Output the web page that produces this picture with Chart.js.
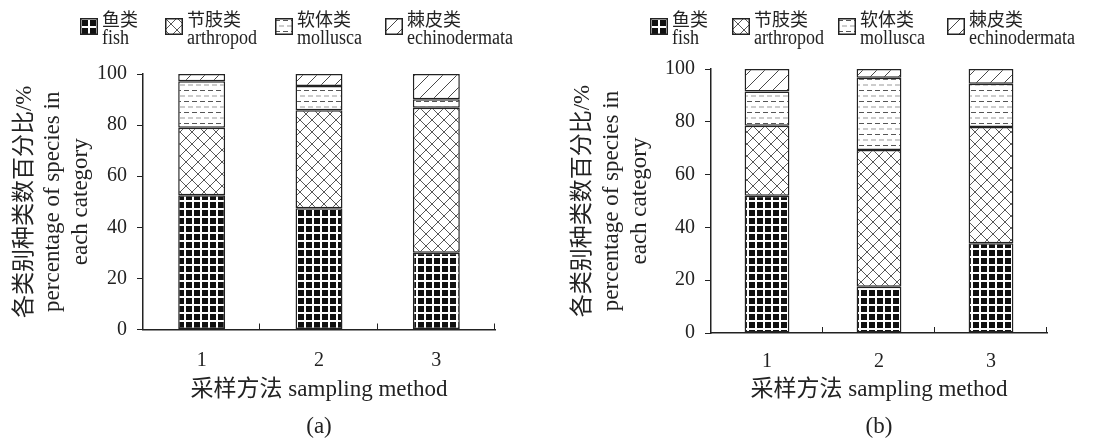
<!DOCTYPE html>
<html><head><meta charset="utf-8">
<script src="https://cdn.jsdelivr.net/npm/chart.js@4/dist/chart.umd.min.js"></script>
<style>
html,body{margin:0;padding:0;background:#fff;}
#wrap{position:relative;width:1111px;height:443px;overflow:hidden;background:#fff;}
.panel{position:absolute;top:0;height:443px;}
.panel > canvas{position:absolute;left:0;top:0;}
.li{position:absolute;top:0;height:50px;color:#222;font-family:"Liberation Serif","Noto Sans CJK SC",serif;z-index:2;}
.li canvas{position:absolute;left:0;top:18px;}
.li .zh{position:absolute;left:22px;top:8px;font-size:18px;line-height:20px;white-space:nowrap;font-family:"Noto Sans CJK SC",sans-serif;}
.li .en{position:absolute;left:22px;top:27px;font-size:20px;line-height:20px;white-space:nowrap;transform:scaleX(0.9);transform-origin:0 0;}
</style></head>
<body>
<div id="wrap">
  <div class="panel" id="pa" style="left:0;width:555px;"><canvas id="ca" width="555" height="443"></canvas></div>
  <div class="panel" id="pb" style="left:555px;width:556px;"><canvas id="cb" width="556" height="443"></canvas></div>
</div>
<script>
// ---------- data ----------
const categories = ['1', '2', '3'];
const seriesZh = ['鱼类', '节肢类', '软体类', '棘皮类'];
const seriesEn = ['fish', 'arthropod', 'mollusca', 'echinodermata'];
const yTitle = ['各类别种类数百分比/%', 'percentage of species in', 'each category'];
const xTitle = '采样方法 sampling method';
const panelLabels = ['(a)', '(b)'];

// panel (a)
const fishA = [52.5, 47.5, 30.0];
const arthropodA = [26.5, 38.3, 56.8];
const molluscaA = [18.2, 9.5, 3.3];
const echinoA = [2.8, 4.7, 9.9];
// panel (b)
const fishB = [52.0, 17.5, 34.0];
const arthropodB = [26.5, 51.8, 44.0];
const molluscaB = [13.0, 27.4, 16.4];
const echinoB = [8.5, 3.3, 5.6];

const yMin = 0, yMax = 100, yStep = 20;

// ---------- patterns ----------
function tile(w, h, draw) {
  const c = document.createElement('canvas'); c.width = w; c.height = h;
  const g = c.getContext('2d'); draw(g, w, h); return c;
}
function makePattern(kind, ctx) {
  let t;
  if (kind === 0) {
    t = tile(8, 8, (g) => { g.fillStyle = '#111'; g.fillRect(0,0,8,8); g.fillStyle = '#fff'; g.fillRect(0,0,8,2); g.fillRect(0,0,2,8); });
  } else if (kind === 1) {
    t = tile(12, 12, (g) => { g.fillStyle = '#fff'; g.fillRect(0,0,12,12); g.strokeStyle = '#444'; g.lineWidth = 0.9;
      g.beginPath(); g.moveTo(0,0); g.lineTo(12,12); g.moveTo(12,0); g.lineTo(0,12); g.stroke(); });
  } else if (kind === 2) {
    t = tile(8, 11, (g) => { g.fillStyle = '#fff'; g.fillRect(0,0,8,11); g.lineWidth = 1;
      g.strokeStyle = '#555'; g.beginPath(); g.moveTo(0,2.5); g.lineTo(5,2.5); g.stroke();
      g.strokeStyle = '#999'; g.beginPath(); g.moveTo(4,8); g.lineTo(8,8); g.moveTo(0,8); g.lineTo(1,8); g.stroke(); });
  } else {
    t = tile(14, 14, (g) => { g.fillStyle = '#fff'; g.fillRect(0,0,14,14); g.strokeStyle = '#333'; g.lineWidth = 0.9;
      g.beginPath(); g.moveTo(-1,15); g.lineTo(15,-1); g.stroke(); });
  }
  return ctx.createPattern(t, 'repeat');
}

// ---------- legend (HTML) ----------
const legendLayout = {
  pa: [80, 165, 275, 385],
  pb: [95, 177, 283, 392]
};
function buildLegend(panelId) {
  const host = document.getElementById(panelId);
  legendLayout[panelId].forEach((left, i) => {
    const d = document.createElement('div'); d.className = 'li'; d.style.left = left + 'px';
    const sw = document.createElement('canvas'); sw.width = 18; sw.height = 17;
    const g = sw.getContext('2d'); g.fillStyle = makePattern(i, g); g.fillRect(0,0,18,17);
    g.strokeStyle = '#222'; g.lineWidth = 1.5; g.strokeRect(0.75,0.75,16.5,15.5);
    d.appendChild(sw);
    const zh = document.createElement('span'); zh.className = 'zh'; zh.textContent = seriesZh[i]; d.appendChild(zh);
    const en = document.createElement('span'); en.className = 'en'; en.textContent = seriesEn[i]; d.appendChild(en);
    host.appendChild(d);
  });
}

// ---------- chart ----------
const FONT = '"Liberation Serif", "Times New Roman", "Noto Sans CJK SC", serif';
const INK = '#222';

const xTickMarks = {
  id: 'xTickMarks',
  afterDraw(chart) {
    const x = chart.scales.x, ctx = chart.ctx, n = x.ticks.length;
    ctx.save(); ctx.strokeStyle = INK; ctx.lineWidth = 1;
    for (let i = 0; i < n; i++) {
      const px = i < n - 1 ? (x.getPixelForTick(i) + x.getPixelForTick(i + 1)) / 2 : x.right;
      const xx = Math.round(px) - 0.5;
      ctx.beginPath(); ctx.moveTo(xx, x.top); ctx.lineTo(xx, x.top - 6); ctx.stroke();
    }
    ctx.restore();
  }
};

function buildChart(canvasId, arrays, label, L) {
  const cv = document.getElementById(canvasId);
  const ctx = cv.getContext('2d');
  const datasets = arrays.map((arr, i) => ({
    label: seriesEn[i],
    data: arr,
    backgroundColor: makePattern(i, ctx),
    borderColor: INK,
    borderWidth: 1.5,
    borderSkipped: false,
    categoryPercentage: 0.8,
    barPercentage: 0.5
  }));
  return new Chart(cv, {
    type: 'bar',
    data: { labels: categories, datasets },
    plugins: [xTickMarks],
    options: {
      responsive: false, animation: false, devicePixelRatio: 1,
      layout: { padding: { left: 0, right: L.right, top: L.top, bottom: 0 } },
      plugins: { legend: { display: false }, tooltip: { enabled: false } },
      scales: {
        x: {
          stacked: true,
          grid: { display: false },
          border: { display: true, color: INK, width: 1.5 },
          ticks: { color: INK, font: { family: FONT, size: 20 }, padding: L.xPad },
          title: { display: true, text: [xTitle, label], color: INK,
                   font: { family: FONT, size: 23, lineHeight: 37 / 23 }, padding: { top: 0, bottom: -2 } },
          afterFit(s) { s.height = L.xH; }
        },
        y: {
          stacked: true, min: yMin, max: yMax,
          grid: { display: true, drawOnChartArea: false, drawTicks: true, tickLength: 6, color: INK, lineWidth: 1 },
          border: { display: true, color: INK, width: 1.5 },
          ticks: { stepSize: yStep, color: INK, font: { family: FONT, size: 20 }, padding: 10 },
          title: { display: true, text: yTitle, color: INK,
                   font: { family: FONT, size: 23, lineHeight: L.yLH / 23 }, padding: { top: L.yTP, bottom: 0 } },
          afterFit(s) { s.width = L.yW; }
        }
      }
    }
  });
}

buildLegend('pa');
buildLegend('pb');
buildChart('ca', [fishA, arthropodA, molluscaA, echinoA], panelLabels[0],
  { right: 60, top: 74, xH: 113.5, yW: 143, xPad: 11, yLH: 28, yTP: 11 });
buildChart('cb', [fishB, arthropodB, molluscaB, echinoB], panelLabels[1],
  { right: 64, top: 69, xH: 110, yW: 156, xPad: 9, yLH: 28.5, yTP: 14 });
</script>
</body></html>
